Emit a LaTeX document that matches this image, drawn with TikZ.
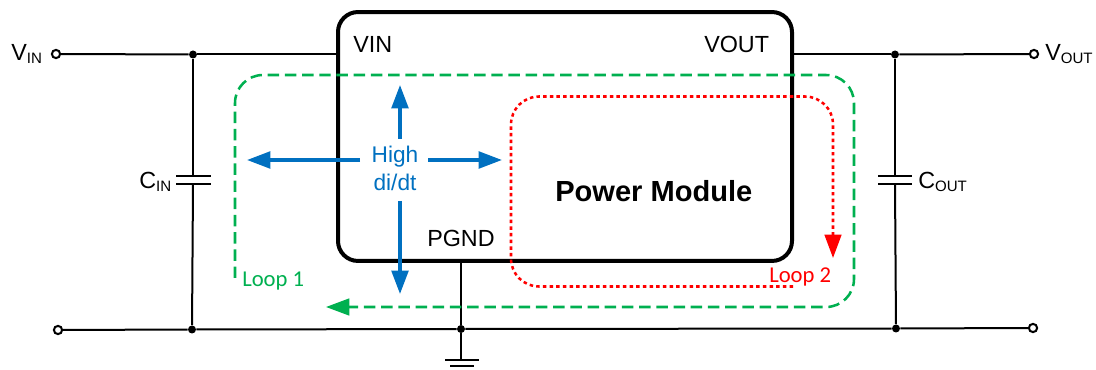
\documentclass[tikz,border=0pt]{standalone}
\usepackage{fontspec}
\setmainfont{Liberation Sans}
\newfontfamily\calib{Carlito}
\usetikzlibrary{arrows.meta}
\definecolor{bluec}{RGB}{0,112,192}
\definecolor{greenc}{RGB}{0,176,80}
\definecolor{redc}{RGB}{255,0,0}
\newcommand{\symb}[2]{#1\raisebox{-0.1em}{\fontsize{11.3pt}{11.3pt}\selectfont #2}}
\tikzset{
  wire/.style={draw=black,line width=1.5pt},
  term/.style={circle,draw=black,fill=white,line width=1.5pt,inner sep=0pt,minimum size=6.2pt},
  dotn/.style={circle,fill=black,inner sep=0pt,minimum size=6pt},
  modbox/.style={draw=black,line width=3pt,rounded corners=15pt,inner sep=0pt,minimum width=340.5pt,minimum height=186.7pt},
  lbl/.style={inner sep=0pt,anchor=base west,font=\fontsize{17.5pt}{17.5pt}\selectfont},
  blue arrow/.style={draw=bluec,line width=2.5pt,-{Triangle[length=17.5pt,width=12.5pt]}},
  loopgreen/.style={draw=greenc,line width=1.9pt,dash pattern=on 8.6pt off 4.3pt,rounded corners=21pt,-{Triangle[length=17.5pt,width=12.5pt]}},
  loopred/.style={draw=redc,line width=1.9pt,dash pattern=on 2.6pt off 2.4pt,rounded corners=21pt,-{Triangle[length=17.5pt,width=12.5pt]}},
  bluetxt/.style={inner sep=0pt,anchor=base,text=bluec,font=\fontsize{17pt}{17pt}\selectfont},
  looptxt/.style={inner sep=0pt,anchor=base west,font=\calib\fontsize{17pt}{17pt}\selectfont}
}
\begin{document}
\begin{tikzpicture}[x=0.75pt,y=-0.75pt]
\useasboundingbox (0,0) rectangle (1096,370);
% module box
\node[modbox] (box) at (565,136.5) {};
% terminals and junctions
\node[term] (tvin) at (56,54) {};
\node[term] (tgl) at (58,330) {};
\node[term] (tvout) at (1034,54) {};
\node[term] (tgr) at (1033,328) {};
\node[dotn] (jtl) at (193,54.5) {};
\node[dotn] (jbl) at (192,329.5) {};
\node[dotn] (jtr) at (895,54.5) {};
\node[dotn] (jbr) at (896,328.5) {};
\node[dotn] (jgnd) at (461,329) {};
\coordinate (gnd) at (461,360);
% wires
\draw[wire] (tvin) -- (jtl);
\draw[wire] (jtl) -- (jtl -| box.west);
\draw[wire] (jtr -| box.east) -- (jtr);
\draw[wire] (jtr) -- (tvout);
\draw[wire] (tgl) -- (jbl);
\draw[wire] (jbl) -- (jgnd);
\draw[wire] (jgnd) -- (jbr);
\draw[wire] (jbr) -- (tgr);
\draw[wire] (jgnd |- box.south) -- (jgnd);
\draw[wire] (jgnd) -- (gnd);
% capacitors
\coordinate (cinT) at (193,176.5);
\coordinate (cinB) at (193,184.5);
\coordinate (coutT) at (895,176.5);
\coordinate (coutB) at (895,184.5);
\draw[wire] (jtl) -- (cinT);
\draw[wire] (cinB) -- (jbl);
\draw[wire] (jtr) -- (coutT);
\draw[wire] (coutB) -- (jbr);
\draw[wire] (176,176.5) -- (211,176.5);
\draw[wire] (176,184.5) -- (211,184.5);
\draw[wire] (878,176.5) -- (912,176.5);
\draw[wire] (878,184.5) -- (912,184.5);
% ground
\draw[wire] (445,360) -- (479,360);
\draw[wire] (450,365.5) -- (474,365.5);
% loops
\draw[loopgreen] (235,278) -- (235,75) -- (854,75) -- (854,307) -- (326,307);
\draw[loopred] (793,286.5) -- (511,286.5) -- (511,96.5) -- (833,96.5) -- (833,258);
% di/dt arrows
\draw[blue arrow] (400,139) -- (400,85);
\draw[blue arrow] (360,160) -- (247,160);
\draw[blue arrow] (428,160) -- (502,160);
\draw[blue arrow] (400,201) -- (400,294);
% labels
\node[lbl] (lvin) at (11,61) {\symb{V}{IN}};
\node[lbl] (lvout) at (1045,61) {\symb{V}{OUT}};
\node[lbl] (lcin) at (139,188.7) {\symb{C}{IN}};
\node[lbl] (lcout) at (918,188.7) {\symb{C}{OUT}};
\node[lbl] (pvin) at (353,53) {VIN};
\node[lbl] (pvout) at (704,53) {VOUT};
\node[lbl] (pgnd) at (427,247) {PGND};
\node[inner sep=0pt,anchor=base west,font=\bfseries\fontsize{21.8pt}{21.8pt}\selectfont] (pm) at (555,201.6) {Power Module};
\node[bluetxt] (high) at (395,163) {High};
\node[bluetxt] (didt) at (395,191) {di/dt};
\node[looptxt,text=greenc] (l1) at (242,287) {Loop 1};
\node[looptxt,text=redc] (l2) at (769,283) {Loop 2};
\end{tikzpicture}
\end{document}
